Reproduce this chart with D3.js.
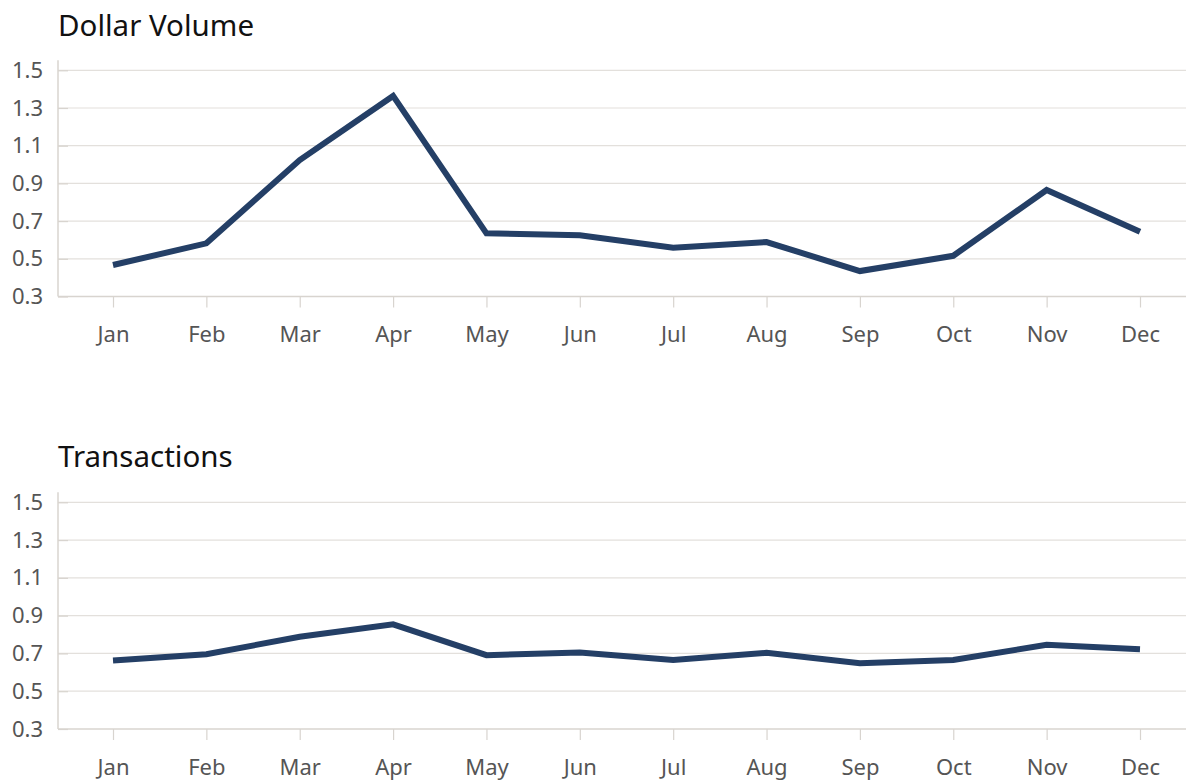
<!DOCTYPE html>
<html>
<head>
<meta charset="utf-8">
<script src="https://cdn.jsdelivr.net/npm/d3@7"></script>
<style>
  html, body { margin: 0; padding: 0; background: #ffffff; }
  svg { display: block; font-family: "Noto Sans", "Open Sans", sans-serif; }
</style>
</head>
<body>
<svg id="chart" width="1186" height="780"></svg>
<script>
// Monthly figures, two panels sharing the same month axis
const months = ["Jan", "Feb", "Mar", "Apr", "May", "Jun", "Jul", "Aug", "Sep", "Oct", "Nov", "Dec"];
const dollarVolume = [0.467, 0.582, 1.024, 1.364, 0.635, 0.625, 0.559, 0.589, 0.435, 0.516, 0.865, 0.644];
const transactions = [0.663, 0.696, 0.788, 0.854, 0.691, 0.705, 0.665, 0.703, 0.648, 0.665, 0.746, 0.722];
const yTicks = [0.3, 0.5, 0.7, 0.9, 1.1, 1.3, 1.5];
const panelTitles = ["Dollar Volume", "Transactions"];

const svg = d3.select("#chart");
const W = 1186;
const left = 58;
const lineColor = "#243f66";
const gridColor = "#e3e0dc";
const axisColor = "#d8d4cf";
const labelFont = "Noto Sans, Open Sans, sans-serif";

const x = d3.scalePoint().domain(months).range([113, 1140]);

function panel(title, values, top, bottom, titleY) {
  const g = svg.append("g");
  const y = d3.scaleLinear().domain([0.3, 1.5]).range([bottom, top]);

  // title
  g.append("text")
    .attr("x", left)
    .attr("y", titleY)
    .attr("font-size", 29.5)
    .attr("fill", "#111")
    .text(title);

  // horizontal grid
  g.append("g").selectAll("line")
    .data(yTicks.slice(1))
    .join("line")
    .attr("x1", left).attr("x2", W)
    .attr("y1", d => y(d)).attr("y2", d => y(d))
    .attr("stroke", gridColor).attr("stroke-width", 1.2);

  // y axis
  const yAxis = g.append("g")
    .attr("transform", `translate(${left},0)`)
    .call(d3.axisLeft(y).tickValues(yTicks).tickFormat(d3.format(".1f")).tickSizeInner(-10).tickSizeOuter(0).tickPadding(15));
  yAxis.select(".domain").remove();
  yAxis.selectAll(".tick line").attr("stroke", axisColor).attr("stroke-width", 1.2);
  yAxis.selectAll(".tick text").attr("font-size", 22).attr("fill", "#555").attr("font-family", labelFont);
  g.append("line")
    .attr("x1", left).attr("x2", left)
    .attr("y1", top - 10).attr("y2", bottom)
    .attr("stroke", axisColor).attr("stroke-width", 1.5);

  // x axis
  const xAxis = g.append("g")
    .attr("transform", `translate(0,${bottom})`)
    .call(d3.axisBottom(x).tickSizeInner(11).tickSizeOuter(0).tickPadding(19));
  xAxis.select(".domain").remove();
  xAxis.selectAll(".tick line").attr("stroke", axisColor).attr("stroke-width", 1.2);
  xAxis.selectAll(".tick text").attr("font-size", 22).attr("fill", "#555").attr("font-family", labelFont);
  g.append("line")
    .attr("x1", left).attr("x2", W)
    .attr("y1", bottom).attr("y2", bottom)
    .attr("stroke", axisColor).attr("stroke-width", 1.5);

  // series line
  g.append("path")
    .datum(values)
    .attr("fill", "none")
    .attr("stroke", lineColor)
    .attr("stroke-width", 6)
    .attr("stroke-linejoin", "miter")
    .attr("d", d3.line().x((d, i) => x(months[i])).y(d => y(d)));
}

panel(panelTitles[0], dollarVolume, 70.3, 296.5, 36);
panel(panelTitles[1], transactions, 502.3, 729, 467);
</script>
</body>
</html>
